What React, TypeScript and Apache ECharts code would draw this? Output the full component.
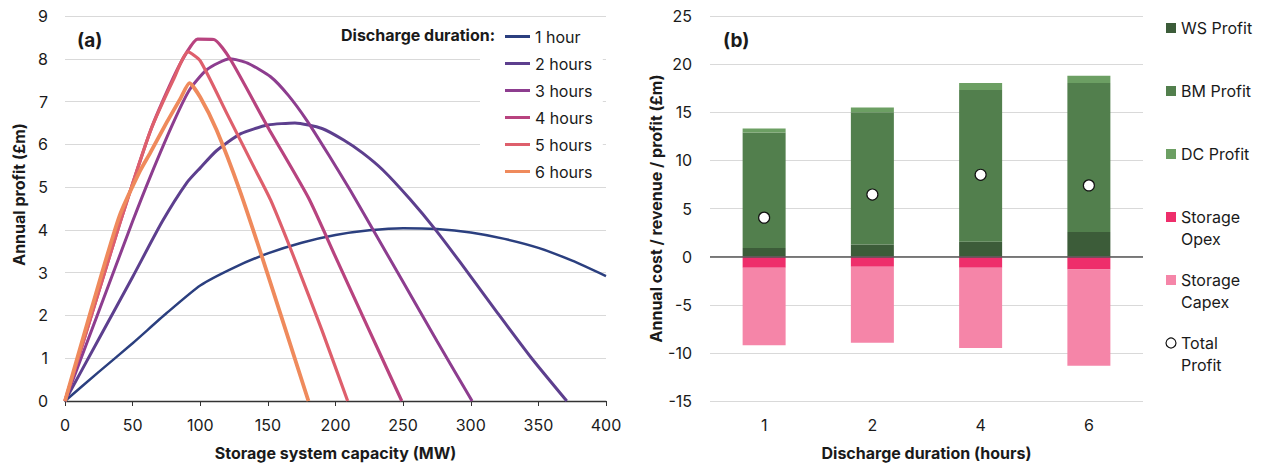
import React, { useEffect, useRef } from "react";
import * as echarts from "echarts";

// ---------- Panel (a): annual profit vs storage capacity ----------
const durationNames = ["1 hour", "2 hours", "3 hours", "4 hours", "5 hours", "6 hours"];
const durationColors = ["#2b3f7f", "#5d3f8e", "#8d3d8f", "#b8437f", "#de5f6c", "#ef8a5c"];

const cap1 = [0, 25, 50, 75, 100, 125, 150, 175, 200, 225, 250, 275, 300, 325, 350, 375, 400];
const profit1 = [0, 0.68, 1.35, 2.05, 2.7, 3.12, 3.45, 3.7, 3.88, 3.99, 4.04, 4.02, 3.94, 3.79, 3.58, 3.28, 2.92];

const cap2 = [0, 25, 50, 72, 90, 100, 112, 130, 150, 170, 190, 206, 220, 235, 255, 274, 292, 320, 345, 371];
const profit2 = [0, 1.45, 2.9, 4.2, 5.1, 5.45, 5.85, 6.25, 6.45, 6.5, 6.37, 6.1, 5.8, 5.4, 4.72, 4.0, 3.25, 2.05, 1.0, 0];

const cap3 = [0, 25, 50, 63, 80, 92, 105, 122, 135, 152, 165, 179, 195, 211, 230, 250, 275, 301];
const profit3 = [0, 2.1, 4.2, 5.24, 6.5, 7.27, 7.75, 8.0, 7.9, 7.58, 7.15, 6.55, 5.75, 4.92, 3.88, 2.78, 1.4, 0];

const cap4 = [0, 20, 40, 63, 80, 90, 98, 110, 122, 150, 180, 200, 220, 249];
const profit4 = [0, 2.05, 4.1, 6.3, 7.55, 8.15, 8.46, 8.45, 8.0, 6.4, 4.75, 3.37, 1.99, 0];

const cap5 = [0, 20, 40, 63, 80, 91, 100, 120, 140, 152, 170, 190, 209];
const profit5 = [0, 2.05, 4.1, 6.3, 7.5, 8.16, 7.95, 6.7, 5.45, 4.7, 3.3, 1.65, 0];

const cap6 = [0, 20, 40, 55, 63, 75, 85, 92, 100, 112, 129, 150, 180];
const profit6 = [0, 2.2, 4.3, 5.35, 5.8, 6.5, 7.05, 7.43, 7.1, 6.34, 4.94, 2.95, 0];

const capacities = [cap1, cap2, cap3, cap4, cap5, cap6];
const profits = [profit1, profit2, profit3, profit4, profit5, profit6];
const lineWidths = [2.5, 3, 3, 3.2, 3.2, 3.8];

// ---------- Panel (b): cost / revenue breakdown ----------
const durations = ["1", "2", "4", "6"];
const wsProfit = [0.9, 1.25, 1.55, 2.55];
const bmProfit = [12.0, 13.75, 15.75, 15.5];
const dcProfit = [0.4, 0.5, 0.75, 0.75];
const storageOpex = [-1.15, -1.05, -1.15, -1.35];
const storageCapex = [-8.05, -7.9, -8.35, -10.0];
const totalProfit = [4.05, 6.45, 8.5, 7.4];

const barNames = ["WS Profit", "BM Profit", "DC Profit", "Storage Opex", "Storage Capex"];
const barColors = ["#3c5c39", "#527f4d", "#6c9f63", "#ee2e6b", "#f585a8"];
const barValues = [wsProfit, bmProfit, dcProfit, storageOpex, storageCapex];
const totalName = "Total Profit";

const FONT = "Inter, 'Noto Sans', sans-serif";
const TEXT = "#1a1a1a";
const GRID = "#d9d9d9";

function buildOption() {
  const lineSeries = durationNames.map((name, s) => ({
    name,
    type: "line",
    xAxisIndex: 0,
    yAxisIndex: 0,
    data: capacities[s].map((c, i) => [c, profits[s][i]]),
    showSymbol: false,
    smooth: 0.2,
    lineStyle: { color: durationColors[s], width: lineWidths[s] },
    itemStyle: { color: durationColors[s] },
    z: 2 + s,
  }));

  const barSeries = barNames.map((name, s) => ({
    name,
    type: "bar",
    xAxisIndex: 1,
    yAxisIndex: 1,
    stack: "total",
    barWidth: 43,
    data: barValues[s],
    itemStyle: { color: barColors[s] },
    ...(s === 0
      ? {
          markLine: {
            silent: true,
            symbol: "none",
            label: { show: false },
            lineStyle: { color: "#555", width: 1.5, type: "solid" },
            data: [{ yAxis: 0 }],
          },
        }
      : {}),
  }));

  const scatter = {
    name: totalName,
    type: "scatter",
    xAxisIndex: 1,
    yAxisIndex: 1,
    data: totalProfit,
    symbol: "circle",
    symbolSize: 11,
    itemStyle: { color: "#ffffff", borderColor: "#111", borderWidth: 1.2, opacity: 1 },
    z: 10,
  };

  // right-hand legend drawn as graphics
  const legendLabels = ["WS Profit", "BM Profit", "DC Profit", "Storage\nOpex", "Storage\nCapex", "Total\nProfit"];
  const legendGraphics: any[] = [];
  legendLabels.forEach((label, i) => {
    const cy = 28 + 63 * i;
    if (i < barColors.length) {
      legendGraphics.push({
        type: "rect",
        shape: { x: 1166, y: cy - 5, width: 10, height: 10 },
        style: { fill: barColors[i] },
      });
    } else {
      legendGraphics.push({
        type: "circle",
        shape: { cx: 1171, cy, r: 5 },
        style: { fill: "#fff", stroke: "#111", lineWidth: 1.2 },
      });
    }
    legendGraphics.push({
      type: "text",
      x: 1181,
      y: cy - 11,
      style: {
        text: label,
        font: `16px ${FONT}`,
        fill: TEXT,
        lineHeight: 22,
        verticalAlign: "top",
        textAlign: "left",
      },
    });
  });

  return {
    animation: false,
    backgroundColor: "#ffffff",
    textStyle: { fontFamily: FONT },
    grid: [
      { left: 65, right: 656, top: 16, bottom: 64 },
      { left: 710, right: 119, top: 16, bottom: 63 },
    ],
    legend: {
      data: durationNames,
      orient: "vertical",
      left: 480,
      top: 22,
      padding: [5, 10, 0, 25],
      backgroundColor: "#ffffff",
      icon: "rect",
      itemWidth: 25,
      itemHeight: 3,
      itemGap: 8,
      textStyle: { fontSize: 16, color: TEXT, fontFamily: FONT, lineHeight: 19 },
    },
    xAxis: [
      {
        type: "value",
        gridIndex: 0,
        min: 0,
        max: 400,
        interval: 50,
        name: "Storage system capacity (MW)",
        nameLocation: "middle",
        nameGap: 44,
        nameTextStyle: { fontSize: 16, fontWeight: "bold", color: TEXT, fontFamily: FONT },
        axisLine: { show: true, lineStyle: { color: "#333", width: 1.3 } },
        axisTick: { show: true, length: 5, lineStyle: { color: "#333" } },
        axisLabel: { fontSize: 16, color: TEXT, margin: 16, fontFamily: FONT },
        splitLine: { show: false },
      },
      {
        type: "category",
        gridIndex: 1,
        data: durations,
        name: "Discharge duration (hours)",
        nameLocation: "middle",
        nameGap: 44,
        nameTextStyle: { fontSize: 16, fontWeight: "bold", color: TEXT, fontFamily: FONT },
        axisLine: { show: false },
        axisTick: { show: false },
        axisLabel: { fontSize: 16, color: TEXT, margin: 16, fontFamily: FONT },
      },
    ],
    yAxis: [
      {
        type: "value",
        gridIndex: 0,
        min: 0,
        max: 9,
        interval: 1,
        name: "Annual profit (£m)",
        nameLocation: "middle",
        nameGap: 38,
        nameTextStyle: {
          fontSize: 16,
          fontWeight: "bold",
          color: TEXT,
          fontFamily: FONT,
          padding: [0, 0, 0, 28],
        },
        axisLine: { show: false },
        axisTick: { show: false },
        axisLabel: { fontSize: 16, color: TEXT, margin: 17, fontFamily: FONT },
        splitLine: { show: true, lineStyle: { color: GRID, width: 1 } },
      },
      {
        type: "value",
        gridIndex: 1,
        min: -15,
        max: 25,
        interval: 5,
        name: "Annual cost / revenue / profit (£m)",
        nameLocation: "middle",
        nameGap: 46,
        nameTextStyle: { fontSize: 16, fontWeight: "bold", color: TEXT, fontFamily: FONT },
        axisLine: { show: false },
        axisTick: { show: false },
        axisLabel: { fontSize: 16, color: TEXT, margin: 18, fontFamily: FONT },
        splitLine: { show: true, lineStyle: { color: GRID, width: 1 } },
      },
    ],
    graphic: [
      {
        type: "text",
        x: 77,
        y: 40,
        style: { text: "(a)", font: `bold 19px ${FONT}`, fill: TEXT, verticalAlign: "middle" },
      },
      {
        type: "text",
        x: 723,
        y: 40,
        style: { text: "(b)", font: `bold 19px ${FONT}`, fill: TEXT, verticalAlign: "middle" },
      },
      {
        type: "text",
        x: 495,
        y: 35,
        z: 100,
        style: {
          text: "Discharge duration:",
          font: `bold 16px ${FONT}`,
          fill: TEXT,
          textAlign: "right",
          verticalAlign: "middle",
        },
      },
      ...legendGraphics,
    ],
    series: [...lineSeries, ...barSeries, scatter],
  };
}

export default function App() {
  const ref = useRef<HTMLDivElement>(null);
  useEffect(() => {
    if (!ref.current) return;
    const chart = echarts.init(ref.current, null, { renderer: "svg" });
    chart.setOption(buildOption() as any);
    return () => chart.dispose();
  }, []);
  return (
    <div
      ref={ref}
      style={{ position: "absolute", left: 0, top: 0, width: 1262, height: 466 }}
    />
  );
}
